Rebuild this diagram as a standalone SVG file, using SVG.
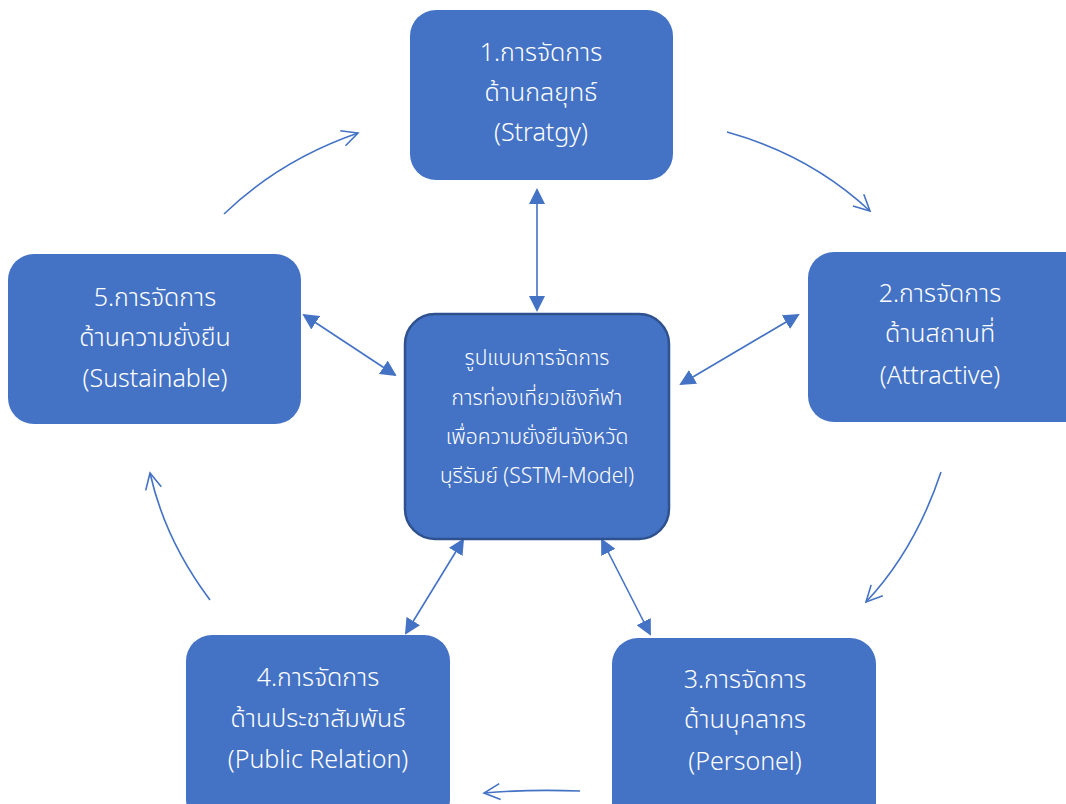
<svg xmlns="http://www.w3.org/2000/svg" width="1066" height="804" viewBox="0 0 1066 804">
  <style>
    .box { fill: #4472C4; }
    .core { fill: #4472C4; stroke: #2F528F; stroke-width: 2.5; }
    .lbl { fill: #FFFFFF; font-family: "Leelawadee UI", "Noto Sans Thai", "Noto Sans", "DejaVu Sans", sans-serif; font-size: 25px; font-weight: 300; text-anchor: middle; }
    .lbl-s { font-size: 21px; }
    .cycle { fill: none; stroke: #4472C4; stroke-width: 1.6; marker-end: url(#open); }
    .link { fill: none; stroke: #4472C4; stroke-width: 1.6; marker-start: url(#tri); marker-end: url(#tri); }
  </style>
  <defs>
    <marker id="open" viewBox="0 0 20 20" refX="18" refY="10" markerWidth="20" markerHeight="20" markerUnits="userSpaceOnUse" orient="auto">
      <path d="M2,2 L18,10 L2,18" fill="none" stroke="#4472C4" stroke-width="1.6"/>
    </marker>
    <marker id="tri" viewBox="0 0 16 16" refX="14" refY="8" markerWidth="16" markerHeight="16" markerUnits="userSpaceOnUse" orient="auto-start-reverse">
      <path d="M0,0 L16,8 L0,16 Z" fill="#4472C4"/>
    </marker>
  </defs>

  <!-- connectors -->
  <g id="connectors">
    <path class="cycle" d="M224,214 Q280,160 358,133"/>
    <path class="cycle" d="M727,132 Q810,155 870,211"/>
    <path class="cycle" d="M941,472 Q915,550 866,602"/>
    <path class="cycle" d="M580,791 Q530,789 484,793"/>
    <path class="cycle" d="M210,600 Q165,540 150,473"/>
    <path class="link" d="M537,190 L537,310"/>
    <path class="link" d="M304,315 L395,375"/>
    <path class="link" d="M798,315 L681,384"/>
    <path class="link" d="M463,540 L406,633"/>
    <path class="link" d="M602,540 L650,634"/>
  </g>

  <!-- 1. strategy -->
  <g id="node-strategy">
    <rect class="box" x="410" y="10" width="263" height="170" rx="26"/>
    <text class="lbl" x="541" y="61">1.การจัดการ</text>
    <text class="lbl" x="541" y="101">ด้านกลยุทธ์</text>
    <text class="lbl" x="541" y="141">(Stratgy)</text>
  </g>

  <!-- 2. attractive -->
  <g id="node-attractive">
    <rect class="box" x="808" y="252" width="290" height="170" rx="26"/>
    <text class="lbl" x="940" y="302">2.การจัดการ</text>
    <text class="lbl" x="940" y="342">ด้านสถานที่</text>
    <text class="lbl" x="940" y="384">(Attractive)</text>
  </g>

  <!-- 3. personnel -->
  <g id="node-personel">
    <rect class="box" x="612" y="638" width="264" height="190" rx="26"/>
    <text class="lbl" x="745" y="688">3.การจัดการ</text>
    <text class="lbl" x="745" y="728">ด้านบุคลากร</text>
    <text class="lbl" x="745" y="770">(Personel)</text>
  </g>

  <!-- 4. public relation -->
  <g id="node-public-relation">
    <rect class="box" x="186" y="635" width="264" height="190" rx="26"/>
    <text class="lbl" x="318" y="686">4.การจัดการ</text>
    <text class="lbl" x="318" y="727">ด้านประชาสัมพันธ์</text>
    <text class="lbl" x="318" y="768">(Public Relation)</text>
  </g>

  <!-- 5. sustainable -->
  <g id="node-sustainable">
    <rect class="box" x="8" y="254" width="293" height="170" rx="26"/>
    <text class="lbl" x="155" y="306">5.การจัดการ</text>
    <text class="lbl" x="155" y="346">ด้านความยั่งยืน</text>
    <text class="lbl" x="155" y="387">(Sustainable)</text>
  </g>

  <!-- centre model -->
  <g id="node-model">
    <rect class="core" x="405" y="314" width="264" height="225" rx="30"/>
    <text class="lbl lbl-s" x="537" y="365">รูปแบบการจัดการ</text>
    <text class="lbl lbl-s" x="537" y="405">การท่องเที่ยวเชิงกีฬา</text>
    <text class="lbl lbl-s" x="537" y="444">เพื่อความยั่งยืนจังหวัด</text>
    <text class="lbl lbl-s" x="537" y="483">บุรีรัมย์ (SSTM-Model)</text>
  </g>
</svg>
